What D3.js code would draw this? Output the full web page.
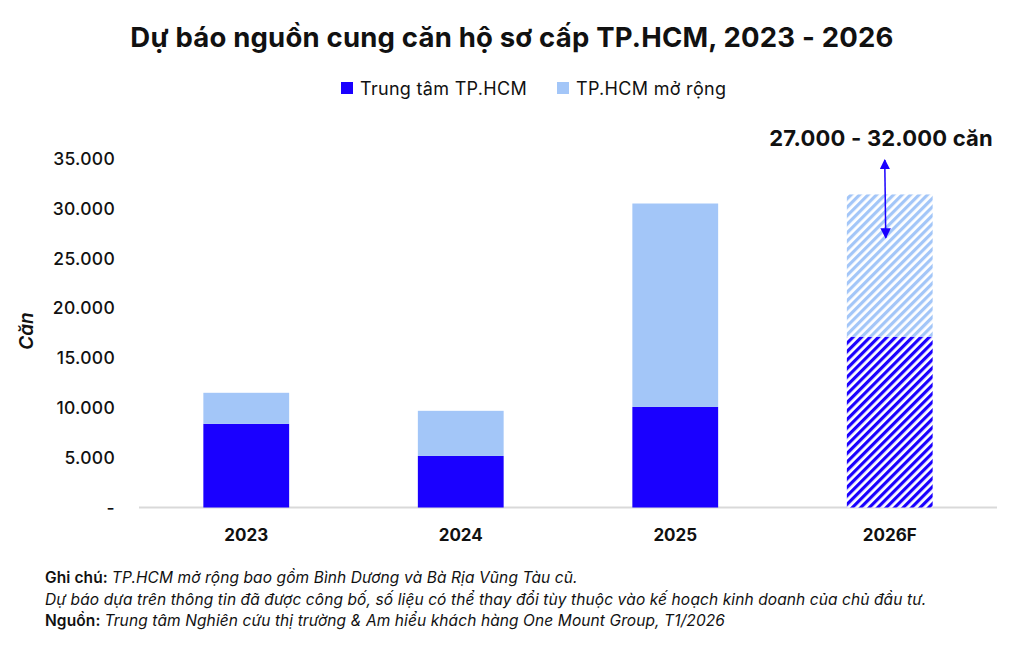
<!DOCTYPE html>
<html><head><meta charset="utf-8">
<script src="https://cdn.jsdelivr.net/npm/d3@7"></script>
<style>body{margin:0;background:#fff;}svg{display:block;font-family:Inter,"Noto Sans",sans-serif;}</style>
</head><body><svg id="c" width="1024" height="657"></svg>
<script>
const categories = ["2023","2024","2025","2026F"];
const central = [8400, 5180, 10100, 17150];
const expanded = [3120, 4530, 20430, 14290];
const forecastFlags = [false,false,false,true];
const yTicks = [0,5000,10000,15000,20000,25000,30000,35000];
const seriesNames = ["Trung tâm TP.HCM","TP.HCM mở rộng"];
const rangeLabel = "27.000 - 32.000 căn";
const arrowRange = [27100, 34900];

const colC = "#1a00ff", colE = "#a3c6f8";
const svg = d3.select("#c");
const defs = svg.append("defs");
function hatch(id, col){
  const p = defs.append("pattern").attr("id",id).attr("patternUnits","userSpaceOnUse")
    .attr("width",6).attr("height",6).attr("patternTransform","rotate(45)");
  p.append("rect").attr("width",6).attr("height",6).attr("fill","#fff");
  p.append("rect").attr("width",3.2).attr("height",6).attr("fill",col);
}
hatch("hc",colC); hatch("he",colE);

const x = d3.scaleBand().domain(categories).range([139,997]).paddingInner(0.6).paddingOuter(0.3);
const y = d3.scaleLinear().domain([0,35000]).range([507.5,159]);

svg.append("text").attr("x",512).attr("y",47).attr("text-anchor","middle")
  .attr("font-size",27.5).attr("font-weight",700).attr("fill","#111").attr("letter-spacing",0.2)
  .text("Dự báo nguồn cung căn hộ sơ cấp TP.HCM, 2023 - 2026");

// legend
const lg = [[341,360,colC,seriesNames[0]],[557,576,colE,seriesNames[1]]];
lg.forEach(d=>{
  svg.append("rect").attr("x",d[0]).attr("y",82).attr("width",12).attr("height",12).attr("fill",d[2]);
  svg.append("text").attr("x",d[1]).attr("y",94.5).attr("font-size",18).attr("fill","#111").attr("letter-spacing",0.3).text(d[3]);
});

// axes
const ya = svg.append("g").attr("transform","translate(115,0)")
  .call(d3.axisLeft(y).tickValues(yTicks).tickSize(0).tickPadding(0)
    .tickFormat(v=> v===0 ? "-" : d3.format(",")(v).replace(/,/g,".")));
ya.select(".domain").remove();
ya.selectAll("text").attr("font-size",17.5).attr("font-weight",500).attr("fill","#111").attr("font-family","Inter,sans-serif").attr("letter-spacing",0.3);

svg.append("line").attr("x1",139).attr("x2",997).attr("y1",507.5).attr("y2",507.5).attr("stroke","#d9d9d9").attr("stroke-width",2);

const xa = svg.append("g").attr("transform","translate(0,507)")
  .call(d3.axisBottom(x).tickSize(0).tickPadding(22));
xa.select(".domain").remove();
xa.selectAll("text").attr("font-size",17).attr("font-weight",700).attr("fill","#111").attr("font-family","Inter,sans-serif");

svg.append("text").attr("transform","translate(33,331) rotate(-90)").attr("text-anchor","middle")
  .attr("font-size",19).attr("font-weight",600).attr("font-style","italic").attr("fill","#111").text("Căn");

// bars
categories.forEach((c,i)=>{
  const f = forecastFlags[i];
  svg.append("rect").attr("x",x(c)).attr("width",x.bandwidth())
    .attr("y",y(central[i])).attr("height",y(0)-y(central[i]))
    .attr("fill", f ? "url(#hc)" : colC);
  svg.append("rect").attr("x",x(c)).attr("width",x.bandwidth())
    .attr("y",y(central[i]+expanded[i])).attr("height",y(central[i])-y(central[i]+expanded[i]))
    .attr("fill", f ? "url(#he)" : colE);
});

// annotation arrow
const ax = x("2026F") + x.bandwidth()/2 - 5;
const mk = defs.append("marker").attr("id","ah").attr("viewBox","0 0 10 10").attr("refX",9).attr("refY",5)
  .attr("markerWidth",7).attr("markerHeight",7).attr("orient","auto-start-reverse");
mk.append("path").attr("d","M0,0L10,5L0,10Z").attr("fill",colC);
svg.append("line").attr("x1",ax).attr("x2",ax+1).attr("y1",y(arrowRange[1])).attr("y2",y(arrowRange[0]))
  .attr("stroke",colC).attr("stroke-width",1.5).attr("marker-start","url(#ah)").attr("marker-end","url(#ah)");
svg.append("text").attr("x",993).attr("y",145.5).attr("text-anchor","end").attr("font-size",22).attr("font-weight",700)
  .attr("fill","#111").attr("letter-spacing",0.2).text(rangeLabel);

// footer
const notes = [
  [["Ghi chú: ",600,"normal"],["TP.HCM mở rộng bao gồm Bình Dương và Bà Rịa Vũng Tàu cũ.",400,"italic"]],
  [["Dự báo dựa trên thông tin đã được công bố, số liệu có thể thay đổi tùy thuộc vào kế hoạch kinh doanh của chủ đầu tư.",400,"italic"]],
  [["Nguồn: ",600,"normal"],["Trung tâm Nghiên cứu thị trường & Am hiểu khách hàng One Mount Group, T1/2026",400,"italic"]]
];
notes.forEach((ln,i)=>{
  const t = svg.append("text").attr("x",45).attr("y",583+i*21.5).attr("font-size",15.5).attr("fill","#111").attr("letter-spacing",0.1);
  ln.forEach(s=> t.append("tspan").attr("font-weight",s[1]).attr("font-style",s[2]).text(s[0]));
});
</script></body></html>
